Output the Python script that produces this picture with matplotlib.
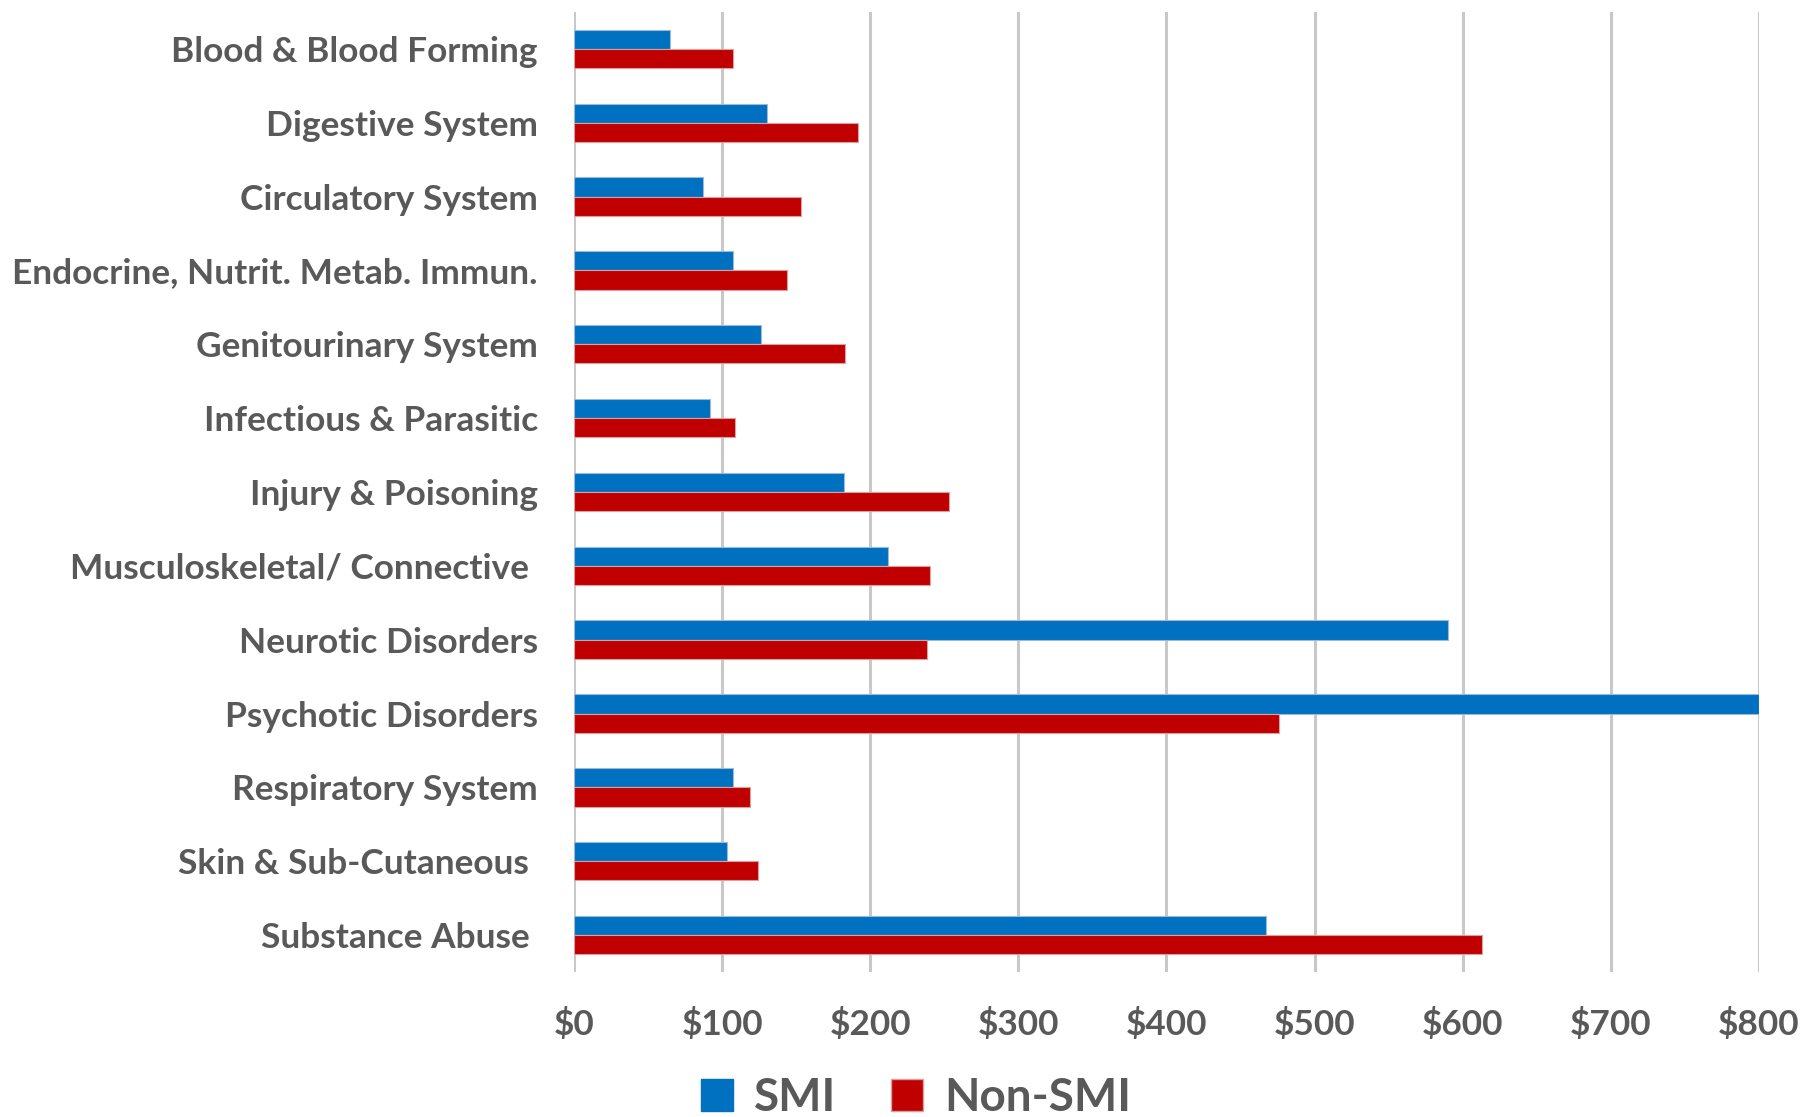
import matplotlib
matplotlib.use("Agg")
import matplotlib.pyplot as plt
from matplotlib.patches import Patch
import numpy as np

categories = ["Blood & Blood Forming", "Digestive System", "Circulatory System",
              "Endocrine, Nutrit. Metab. Immun.", "Genitourinary System",
              "Infectious & Parasitic", "Injury & Poisoning",
              "Musculoskeletal/ Connective ", "Neurotic Disorders",
              "Psychotic Disorders", "Respiratory System",
              "Skin & Sub-Cutaneous ", "Substance Abuse "]
smi = [65, 130, 87, 107, 126, 92, 182, 212, 590, 800, 107, 103, 467]
non_smi = [107, 192, 153, 144, 183, 109, 253, 240, 238, 476, 119, 124, 613]
xticks = [0, 100, 200, 300, 400, 500, 600, 700, 800]
xticklabels = ["$0", "$100", "$200", "$300", "$400", "$500", "$600", "$700", "$800"]

BLUE = "#0070C0"
RED = "#C00000"
TXT = "#595959"
FONT = "Lato"

fig = plt.figure(figsize=(18, 11.17), dpi=100)
ax = fig.add_axes([0.3189, 0.1298, 0.9772 - 0.3189, 0.9893 - 0.1298])

y = np.arange(len(categories))
h = 0.26
ax.barh(y - h / 2, smi, height=h, color=BLUE, edgecolor="#9DB9D5", linewidth=0.8, zorder=3)
ax.barh(y + h / 2, non_smi, height=h, color=RED, edgecolor="#D9A0A0", linewidth=0.8, zorder=3)

ax.set_xlim(0, 800)
ax.set_ylim(len(categories) - 0.5, -0.5)
ax.set_xticks(xticks)
ax.set_xticklabels(xticklabels)
ax.set_yticks(y)
ax.set_yticklabels(categories)

for lab in ax.get_yticklabels() + ax.get_xticklabels():
    lab.set_fontfamily(FONT)
    lab.set_fontweight("bold")
    lab.set_fontsize(25.4)
    lab.set_color(TXT)

ax.tick_params(axis="both", length=0)
ax.tick_params(axis="y", pad=26)
ax.tick_params(axis="x", pad=26)
for s in ax.spines.values():
    s.set_visible(False)
ax.grid(axis="x", color="#C8C8C8", linewidth=2.2, zorder=0)
ax.set_axisbelow(True)

handles = [Patch(facecolor=BLUE, edgecolor=BLUE, label="SMI"),
           Patch(facecolor=RED, edgecolor="#D9A0A0", label="Non-SMI")]
leg = fig.legend(handles=handles, loc="center", bbox_to_anchor=(0.509, 0.017), ncol=2,
                 frameon=False, handlelength=0.7, handleheight=0.7, handletextpad=0.45,
                 columnspacing=1.2, prop={"family": FONT, "weight": "bold", "size": 33})
for t in leg.get_texts():
    t.set_color(TXT)

fig.savefig("out.png", dpi=100)
